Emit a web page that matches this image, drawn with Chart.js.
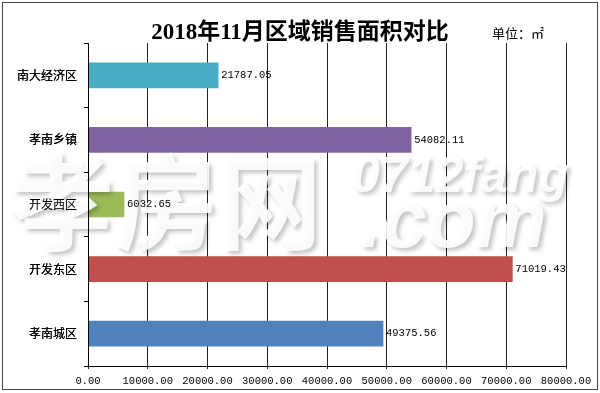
<!DOCTYPE html>
<html>
<head>
<meta charset="utf-8">
<script src="https://cdn.jsdelivr.net/npm/chart.js@4"></script>
<style>
  html, body { margin: 0; padding: 0; background: #fff; }
  canvas { display: block; }
</style>
</head>
<body>
<canvas id="c" width="600" height="393"></canvas>
<script>
// data
var regions = ['南大经济区', '孝南乡镇', '开发西区', '开发东区', '孝南城区'];
var areas = [21787.05, 54082.11, 6032.65, 71019.43, 49375.56];
var barColors = ['#4BACC6', '#8064A2', '#9BBB59', '#C0504D', '#4F81BD'];
var xMin = 0, xMax = 80000, xStep = 10000;
var titleText = '2018年11月区域销售面积对比';
var unitText = '单位：㎡';

var monoFont = "'Liberation Mono', monospace";
var cjkFont = "'Noto Sans CJK SC', sans-serif";

// frame, title, unit, watermark and value labels
var decor = {
    id: 'decor',
    beforeDraw: function(chart){
        var ctx = chart.ctx;
        ctx.save();
        ctx.fillStyle = '#fff';
        ctx.fillRect(0, 0, chart.width, chart.height);
        ctx.strokeStyle = '#444';
        ctx.lineWidth = 1;
        ctx.strokeRect(2.5, 2.5, 595, 387);
        ctx.fillStyle = '#000';
        ctx.textBaseline = 'middle';
        ctx.textAlign = 'center';
        ctx.font = "bold 23px 'Liberation Serif', " + cjkFont;
        ctx.fillText(titleText, 300, 33);
        ctx.textAlign = 'left';
        ctx.font = '13px ' + cjkFont;
        ctx.fillText(unitText, 492, 33);
        ctx.restore();
    },
    afterDatasetsDraw: function(chart){
        var ctx = chart.ctx;
        // watermark
        ctx.save();
        ctx.fillStyle = 'rgba(255,255,255,0.9)';
        ctx.shadowColor = 'rgba(0,0,0,0.25)';
        ctx.shadowBlur = 4;
        ctx.shadowOffsetX = 3;
        ctx.shadowOffsetY = 3;
        ctx.textBaseline = 'alphabetic';
        ctx.textAlign = 'left';
        ctx.font = 'bold 104px ' + cjkFont;
        ctx.fillText('孝房网', 10, 242);
        ctx.font = "italic bold 50px 'Liberation Sans', sans-serif";
        ctx.fillText('0712fang', 352, 192);
        ctx.font = "italic bold 80px 'Liberation Sans', sans-serif";
        ctx.fillText('.com', 360, 247);
        ctx.restore();

        // category labels stay readable above the watermark
        chart.scales.y.draw(chart.chartArea);

        // value labels
        ctx.save();
        ctx.fillStyle = '#000';
        ctx.font = '10.5px ' + monoFont;
        ctx.textBaseline = 'middle';
        ctx.textAlign = 'left';
        var meta = chart.getDatasetMeta(0);
        meta.data.forEach(function(bar, i){
            ctx.fillText(areas[i].toFixed(2), bar.x + 3, bar.y);
        });
        ctx.restore();
    }
};

new Chart(document.getElementById('c'), {
    type: 'bar',
    data: {
        labels: regions,
        datasets: [{
            label: '销售面积',
            data: areas,
            backgroundColor: barColors,
            borderWidth: 0,
            barThickness: 25
        }]
    },
    options: {
        indexAxis: 'y',
        responsive: false,
        animation: false,
        layout: { padding: { top: 43, right: 34, left: 0, bottom: 0 } },
        plugins: {
            legend: { display: false },
            title: { display: false },
            tooltip: { enabled: false }
        },
        scales: {
            x: {
                min: xMin,
                max: xMax,
                afterFit: function(s){ s.height = 27; },
                ticks: {
                    stepSize: xStep,
                    color: '#000',
                    font: { family: monoFont, size: 10.5 },
                    padding: 6,
                    maxRotation: 0,
                    callback: function(v){ return Number(v).toFixed(2); }
                },
                grid: { color: '#222', lineWidth: 1, tickLength: 3 },
                border: { color: '#000' }
            },
            y: {
                afterFit: function(s){ s.width = 88; },
                ticks: {
                    color: '#000',
                    font: { family: cjkFont, size: 12 },
                    padding: 7
                },
                grid: { offset: true, drawOnChartArea: false, color: '#000', tickLength: 4 },
                border: { color: '#000' }
            }
        }
    },
    plugins: [decor]
});
</script>
</body>
</html>
